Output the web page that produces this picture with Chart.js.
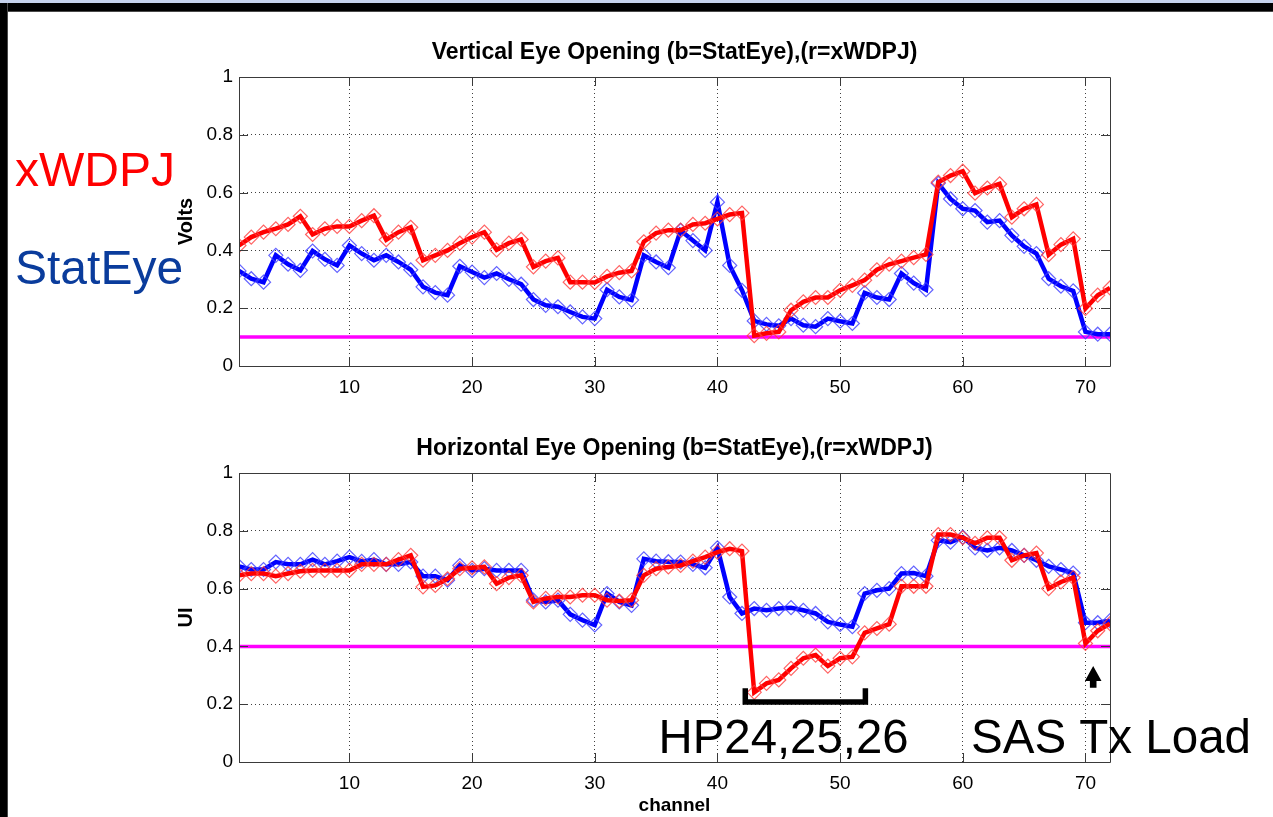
<!DOCTYPE html>
<html>
<head>
<meta charset="utf-8">
<title>Eye Opening per channel</title>
<script src="https://cdn.jsdelivr.net/npm/chart.js@4.4.0/dist/chart.umd.min.js"></script>
<style>
    html, body { margin: 0; padding: 0; background: #fff; }
    body { position: relative; width: 1273px; height: 817px; overflow: hidden; }
    canvas { position: absolute; left: 0; }
    #verticalEye { top: 0; }
    #horizontalEye { top: 410px; }
    .strip { position: absolute; left: 0; top: 0; width: 1273px; height: 3px; background: #c6d2ec; z-index: 2; }
    .bar-top { position: absolute; left: 0; top: 3px; width: 1273px; height: 8px; background: #000; border-bottom: 1px solid #4a4a4a; z-index: 2; }
    .bar-left { position: absolute; left: 0; top: 3px; width: 7px; height: 814px; background: #000; border-right: 1px solid #4a4a4a; z-index: 2; }
</style>
</head>
<body>
<div class="strip"></div>
<div class="bar-top"></div>
<div class="bar-left"></div>
<canvas id="verticalEye" width="1273" height="410"></canvas>
<canvas id="horizontalEye" width="1273" height="407"></canvas>
<script>
const channels = [
    1, 2, 3, 4, 5, 6, 7, 8, 9, 10, 11, 12, 13, 14, 15, 16, 17, 18,
    19, 20, 21, 22, 23, 24, 25, 26, 27, 28, 29, 30, 31, 32, 33, 34, 35, 36,
    37, 38, 39, 40, 41, 42, 43, 44, 45, 46, 47, 48, 49, 50, 51, 52, 53, 54,
    55, 56, 57, 58, 59, 60, 61, 62, 63, 64, 65, 66, 67, 68, 69, 70, 71, 72
];

// vertical eye opening, volts
const voStatEye = [
    0.329, 0.302, 0.290, 0.383, 0.352, 0.331, 0.398, 0.369, 0.348, 0.417, 0.389, 0.366,
    0.383, 0.360, 0.333, 0.274, 0.254, 0.245, 0.345, 0.325, 0.306, 0.320, 0.300, 0.283,
    0.230, 0.210, 0.205, 0.187, 0.170, 0.164, 0.264, 0.239, 0.228, 0.383, 0.360, 0.340,
    0.469, 0.434, 0.400, 0.567, 0.348, 0.262, 0.156, 0.144, 0.139, 0.164, 0.141, 0.136,
    0.164, 0.155, 0.147, 0.253, 0.237, 0.230, 0.320, 0.287, 0.264, 0.632, 0.578, 0.544,
    0.538, 0.498, 0.503, 0.452, 0.414, 0.389, 0.302, 0.276, 0.260, 0.118, 0.110, 0.110
];
const voXwdpj = [
    0.417, 0.446, 0.463, 0.475, 0.490, 0.518, 0.455, 0.475, 0.483, 0.483, 0.503, 0.520,
    0.437, 0.463, 0.480, 0.366, 0.383, 0.400, 0.425, 0.446, 0.463, 0.402, 0.425, 0.438,
    0.343, 0.363, 0.374, 0.290, 0.290, 0.289, 0.310, 0.323, 0.329, 0.430, 0.460, 0.470,
    0.470, 0.490, 0.494, 0.509, 0.524, 0.529, 0.105, 0.113, 0.118, 0.193, 0.222, 0.237,
    0.237, 0.262, 0.279, 0.297, 0.333, 0.352, 0.363, 0.375, 0.386, 0.636, 0.659, 0.674,
    0.598, 0.616, 0.630, 0.515, 0.544, 0.559, 0.385, 0.420, 0.440, 0.199, 0.245, 0.270
];

// horizontal eye opening, UI
const heStatEye = [
    0.677, 0.666, 0.666, 0.692, 0.684, 0.684, 0.700, 0.684, 0.695, 0.709, 0.694, 0.700,
    0.684, 0.684, 0.692, 0.643, 0.643, 0.629, 0.680, 0.663, 0.669, 0.663, 0.663, 0.663,
    0.560, 0.554, 0.560, 0.511, 0.491, 0.474, 0.583, 0.554, 0.542, 0.703, 0.695, 0.693,
    0.692, 0.684, 0.672, 0.741, 0.571, 0.514, 0.531, 0.525, 0.531, 0.534, 0.525, 0.514,
    0.485, 0.476, 0.468, 0.583, 0.594, 0.600, 0.652, 0.654, 0.643, 0.767, 0.761, 0.778,
    0.741, 0.732, 0.741, 0.732, 0.715, 0.698, 0.677, 0.666, 0.654, 0.482, 0.482, 0.489
];
const heXwdpj = [
    0.646, 0.652, 0.652, 0.643, 0.652, 0.660, 0.663, 0.663, 0.663, 0.663, 0.684, 0.684,
    0.684, 0.700, 0.715, 0.606, 0.611, 0.634, 0.669, 0.672, 0.675, 0.617, 0.638, 0.646,
    0.554, 0.566, 0.571, 0.571, 0.577, 0.577, 0.560, 0.557, 0.560, 0.646, 0.669, 0.675,
    0.680, 0.695, 0.709, 0.726, 0.738, 0.730, 0.241, 0.272, 0.284, 0.324, 0.359, 0.370,
    0.332, 0.359, 0.364, 0.447, 0.462, 0.477, 0.608, 0.608, 0.608, 0.787, 0.787, 0.776,
    0.757, 0.776, 0.776, 0.698, 0.715, 0.723, 0.600, 0.623, 0.638, 0.410, 0.454, 0.479
];

const voLimit = 0.1;
const heLimit = 0.4;

const channelTicks = [10, 20, 30, 40, 50, 60, 70];
const levelTicks = [0, 0.2, 0.4, 0.6, 0.8, 1];

// annotation anchors, in channel / axis units
const hpSpan = [42.27, 52.06];
const hpBracketLevels = [0.208, 0.255];
const sasArrow = { channel: 70.63, tip: 0.332, base: 0.257 };

const FONT = '"Liberation Sans", Arial, Helvetica, sans-serif';
const RED = '#ff0000';
const BLUE = '#0000ff';
const MAGENTA = '#ff00ff';
const KEY_BLUE = '#0a3c9c';
const BOX_COLOR = '#3a3a3a';
const TICK_LEN = 9;

function pointsOf(values) {
    return channels.map((c, i) => ({ x: c, y: values[i] }));
}

function limitLine(level) {
    return [
        { x: channels[0], y: level },
        { x: channels[channels.length - 1], y: level }
    ];
}

function seriesDataset(label, values, color, markerColor) {
    return {
        label,
        data: pointsOf(values),
        borderColor: color,
        borderWidth: 4.5,
        pointStyle: 'rectRot',
        pointRadius: 7,
        pointBorderWidth: 1.2,
        pointBorderColor: markerColor,
        pointBackgroundColor: 'rgba(0,0,0,0)',
        tension: 0,
        fill: false
    };
}

function limitDataset(level) {
    return {
        label: 'limit',
        data: limitLine(level),
        borderColor: MAGENTA,
        borderWidth: 3.5,
        pointRadius: 0,
        fill: false
    };
}

// box with inward tick marks on all four sides
const axisBox = {
    id: 'axisBox',
    afterDatasetsDraw(chart) {
        const { ctx, chartArea: { left, right, top, bottom }, scales: { x, y } } = chart;
        ctx.save();
        ctx.strokeStyle = BOX_COLOR;
        ctx.lineWidth = 1;
        ctx.beginPath();
        ctx.rect(Math.round(left) + 0.5, Math.round(top) + 0.5,
                 Math.round(right - left), Math.round(bottom - top));
        channelTicks.forEach(v => {
            const px = Math.round(x.getPixelForValue(v)) + 0.5;
            ctx.moveTo(px, bottom);
            ctx.lineTo(px, bottom - TICK_LEN);
            ctx.moveTo(px, top);
            ctx.lineTo(px, top + TICK_LEN);
        });
        levelTicks.forEach(v => {
            const py = Math.round(y.getPixelForValue(v)) + 0.5;
            ctx.moveTo(left, py);
            ctx.lineTo(left + TICK_LEN, py);
            ctx.moveTo(right, py);
            ctx.lineTo(right - TICK_LEN, py);
        });
        ctx.stroke();
        ctx.restore();
    }
};

const seriesKey = {
    id: 'seriesKey',
    afterDraw(chart) {
        const { ctx } = chart;
        ctx.save();
        ctx.font = '48px ' + FONT;
        ctx.textBaseline = 'alphabetic';
        ctx.textAlign = 'left';
        ctx.fillStyle = RED;
        ctx.fillText('xWDPJ', 15, 186);
        ctx.fillStyle = KEY_BLUE;
        ctx.fillText('StatEye', 15, 284);
        ctx.restore();
    }
};

const heNotes = {
    id: 'heNotes',
    afterDraw(chart) {
        const { ctx, scales: { x, y } } = chart;
        ctx.save();

        // bracket under the HP channels
        const bx1 = x.getPixelForValue(hpSpan[0]);
        const bx2 = x.getPixelForValue(hpSpan[1]);
        const by = y.getPixelForValue(hpBracketLevels[0]);
        const byTop = y.getPixelForValue(hpBracketLevels[1]);
        ctx.strokeStyle = '#000';
        ctx.lineWidth = 5.5;
        ctx.lineJoin = 'miter';
        ctx.lineCap = 'butt';
        ctx.beginPath();
        ctx.moveTo(bx1, byTop);
        ctx.lineTo(bx1, by);
        ctx.lineTo(bx2, by);
        ctx.lineTo(bx2, byTop);
        ctx.stroke();

        // arrow pointing at the SAS channel
        const ax = x.getPixelForValue(sasArrow.channel);
        const tipY = y.getPixelForValue(sasArrow.tip);
        const baseY = y.getPixelForValue(sasArrow.base);
        const headY = tipY + 15;
        ctx.fillStyle = '#000';
        ctx.beginPath();
        ctx.moveTo(ax, tipY);
        ctx.lineTo(ax + 8.3, headY);
        ctx.lineTo(ax + 3.3, headY);
        ctx.lineTo(ax + 3.3, baseY);
        ctx.lineTo(ax - 3.3, baseY);
        ctx.lineTo(ax - 3.3, headY);
        ctx.lineTo(ax - 8.3, headY);
        ctx.closePath();
        ctx.fill();

        ctx.font = '49px ' + FONT;
        ctx.textBaseline = 'alphabetic';
        ctx.textAlign = 'left';
        ctx.fillText('HP24,25,26', x.getPixelForValue(35.2), y.getPixelForValue(0.03), 250);
        ctx.fillText('SAS Tx Load', x.getPixelForValue(60.67), y.getPixelForValue(0.03), 280);
        ctx.restore();
    }
};

function buildChart(canvasId, cfg) {
    const ctx = document.getElementById(canvasId).getContext('2d');
    return new Chart(ctx, {
        type: 'line',
        data: {
            datasets: [
                seriesDataset('xWDPJ', cfg.red, RED, 'rgba(255, 60, 60, 0.8)'),
                seriesDataset('StatEye', cfg.blue, BLUE, 'rgba(60, 60, 255, 0.8)'),
                limitDataset(cfg.limit)
            ]
        },
        options: {
            responsive: false,
            animation: false,
            events: [],
            layout: { padding: { left: 0, right: 163, top: 0, bottom: 0 } },
            plugins: {
                legend: { display: false },
                tooltip: { enabled: false },
                title: {
                    display: true,
                    text: cfg.title,
                    fullSize: false,
                    color: '#000',
                    font: { family: FONT, size: 23, weight: 'bold' },
                    padding: { top: cfg.titleTop, bottom: cfg.titleBottom }
                }
            },
            scales: {
                x: {
                    type: 'linear',
                    min: channels[0],
                    max: channels[channels.length - 1],
                    afterBuildTicks: axis => { axis.ticks = channelTicks.map(v => ({ value: v })); },
                    afterFit: axis => { axis.height = cfg.xHeight; },
                    grid: { color: 'rgba(0,0,0,0.75)', lineWidth: 1, drawTicks: false },
                    border: { display: false, dash: [1, 3] },
                    ticks: {
                        color: '#000',
                        font: { family: FONT, size: 19 },
                        padding: 10,
                        maxRotation: 0,
                        autoSkip: false
                    },
                    title: {
                        display: !!cfg.xTitle,
                        text: cfg.xTitle || '',
                        color: '#000',
                        font: { family: FONT, size: 19, weight: 'bold' },
                        padding: { top: 0, bottom: 0 }
                    }
                },
                y: {
                    min: 0,
                    max: 1,
                    afterBuildTicks: axis => { axis.ticks = levelTicks.map(v => ({ value: v })); },
                    afterFit: axis => { axis.width = 239; },
                    grid: { color: 'rgba(0,0,0,0.75)', lineWidth: 1, drawTicks: false },
                    border: { display: false, dash: [1, 3] },
                    ticks: {
                        color: '#000',
                        font: { family: FONT, size: 19 },
                        padding: 6,
                        callback: v => String(v)
                    },
                    title: {
                        display: true,
                        text: cfg.yTitle,
                        color: '#000',
                        font: { family: FONT, size: 20, weight: 'bold' },
                        padding: { top: 174, bottom: 0 }
                    }
                }
            }
        },
        plugins: [axisBox].concat(cfg.extra)
    });
}

buildChart('verticalEye', {
    title: 'Vertical Eye Opening (b=StatEye),(r=xWDPJ)',
    yTitle: 'Volts',
    red: voXwdpj,
    blue: voStatEye,
    limit: voLimit,
    titleTop: 39.2,
    titleBottom: 10.2,
    xHeight: 44,
    extra: [seriesKey]
});

buildChart('horizontalEye', {
    title: 'Horizontal Eye Opening (b=StatEye),(r=xWDPJ)',
    yTitle: 'UI',
    xTitle: 'channel',
    red: heXwdpj,
    blue: heStatEye,
    limit: heLimit,
    titleTop: 25.2,
    titleBottom: 10.2,
    xHeight: 55,
    extra: [heNotes]
});
</script>
</body>
</html>
